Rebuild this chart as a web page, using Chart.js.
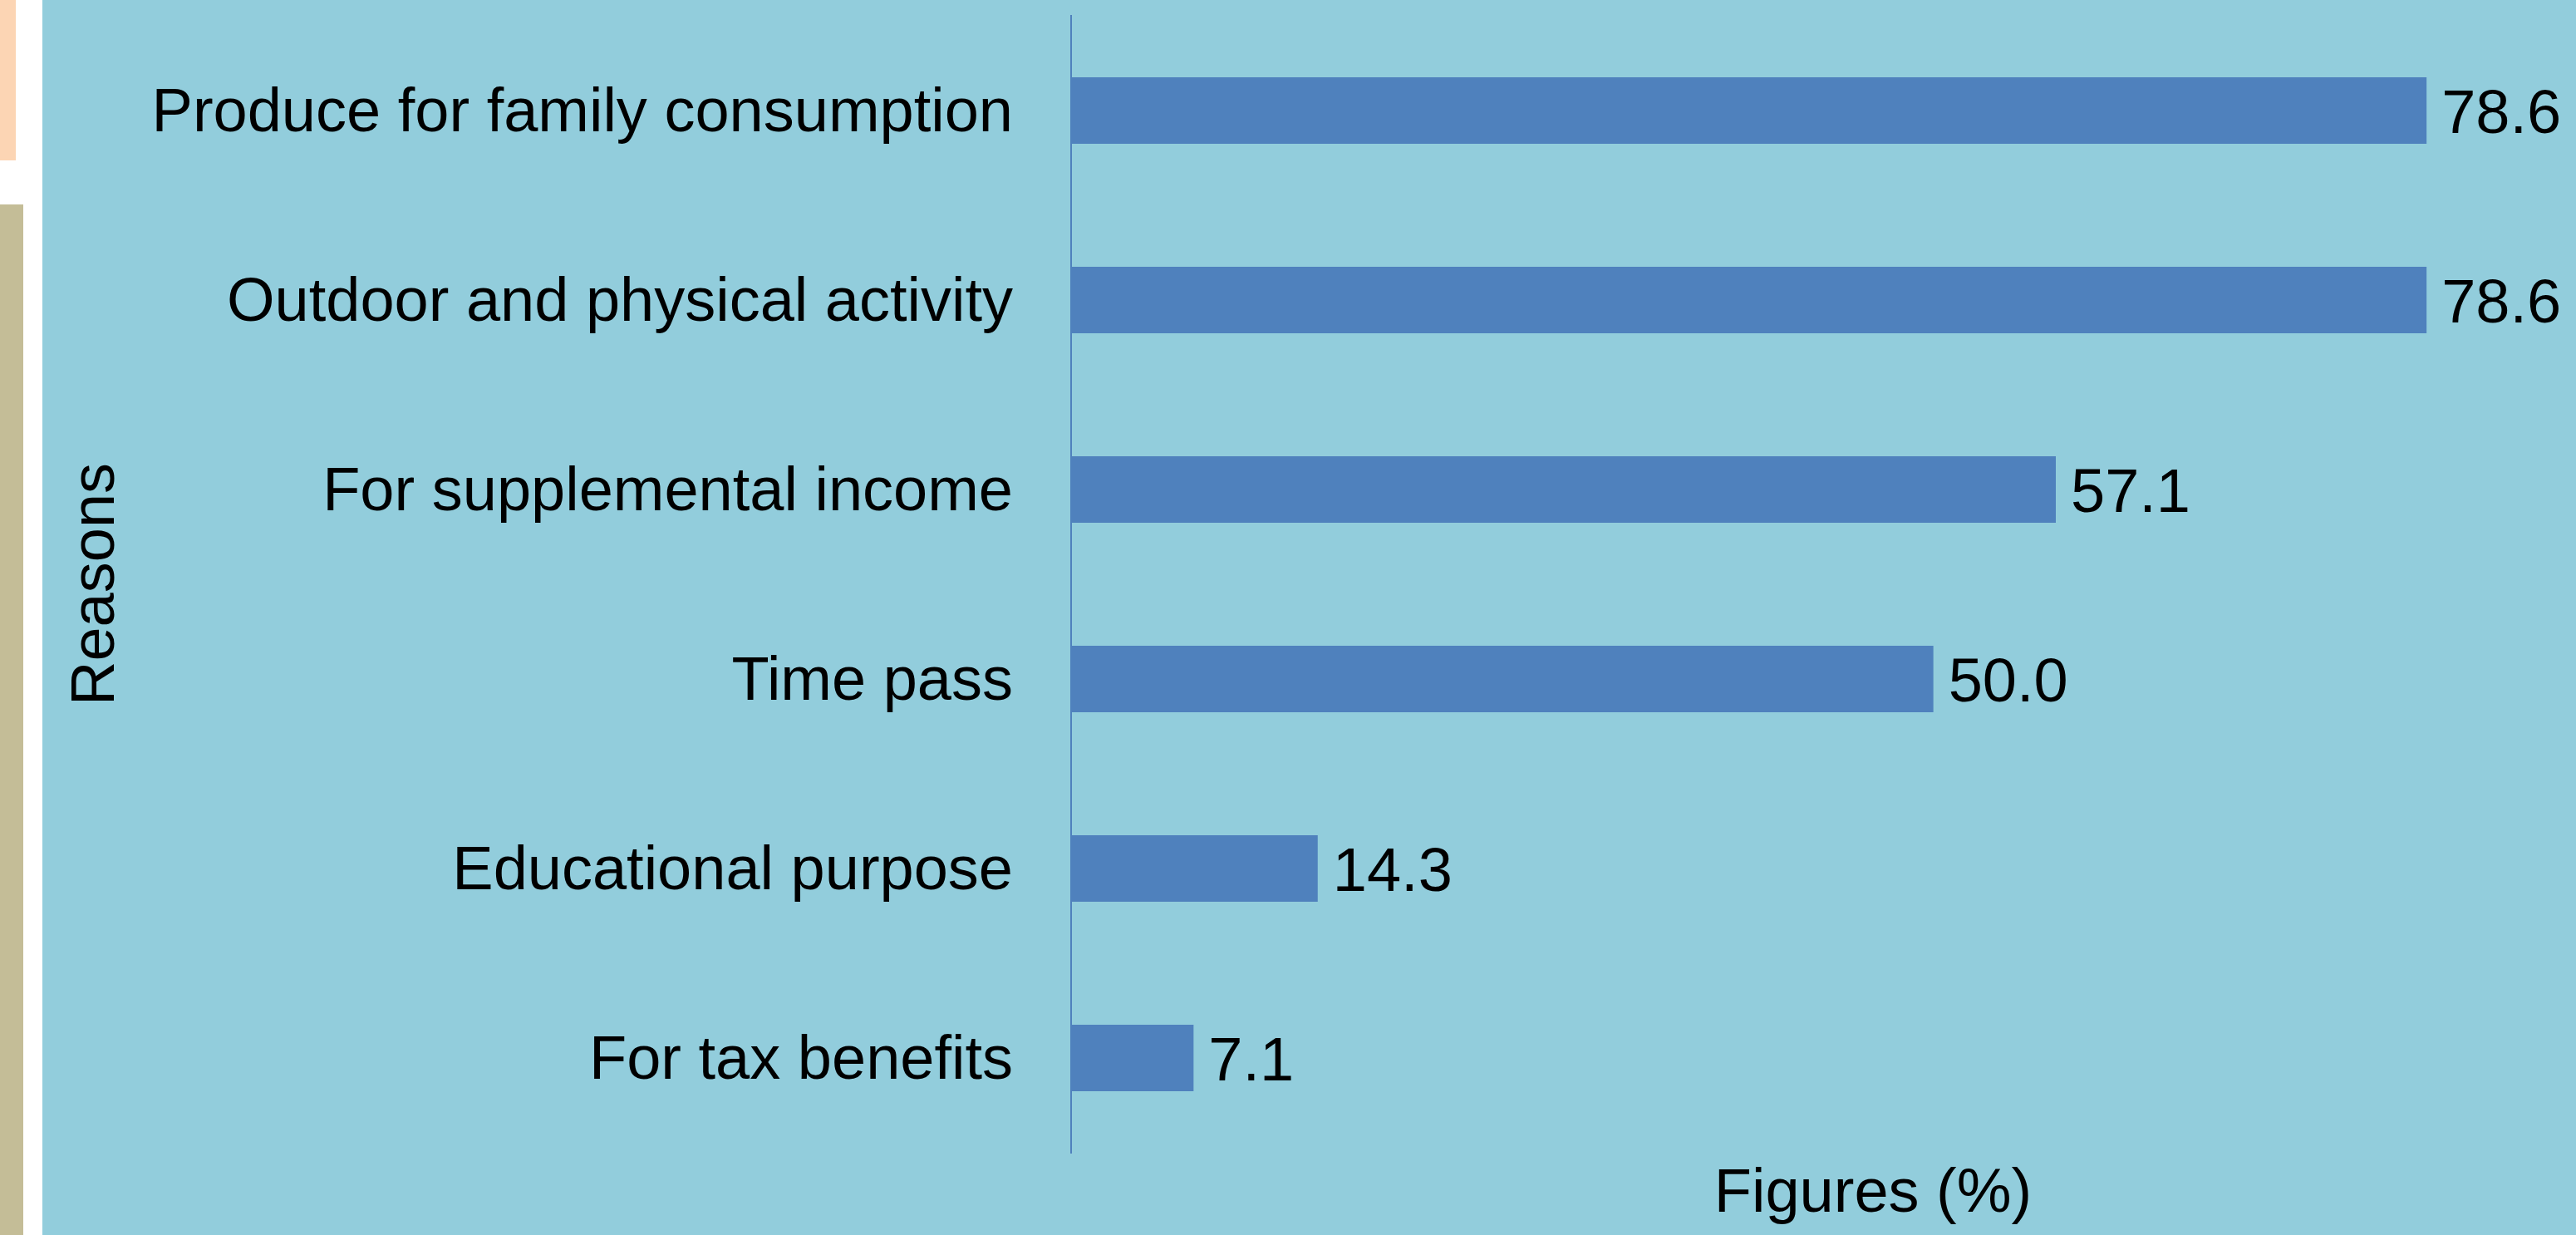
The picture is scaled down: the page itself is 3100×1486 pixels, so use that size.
<!DOCTYPE html>
<html>
<head>
<meta charset="utf-8">
<title>Reasons for gardening</title>
<script src="https://cdn.jsdelivr.net/npm/chart.js@4"></script>
<style>
    html, body { margin: 0; padding: 0; background: #ffffff; overflow: hidden; }
    #page { position: relative; width: 3100px; height: 1486px; overflow: hidden; background: #ffffff; }
    /* side strips of the slide */
    #stripTop { position: absolute; left: 0; top: 0; width: 19px; height: 193px; background: #FCD5B4; }
    #stripBottom { position: absolute; left: 0; top: 246px; width: 28px; height: 1240px; background: #C4BD97; }
    #panel { position: absolute; left: 51px; top: 0; width: 3049px; height: 1486px; background: #92CDDC; overflow: hidden; }
    #chartBox { position: absolute; left: 0; top: 0; width: 3168px; height: 1486px; }
</style>
</head>
<body>
<div id="page">
    <div id="stripTop"></div>
    <div id="stripBottom"></div>
    <div id="panel">
        <div id="chartBox"><canvas id="reasonsChart"></canvas></div>
    </div>
</div>
<script>
// Share of respondents giving each reason (%)
const reasons = [
    'Produce for family consumption',
    'Outdoor and physical activity',
    'For supplemental income',
    'Time pass',
    'Educational purpose',
    'For tax benefits'
];
const shares = [78.6, 78.6, 57.1, 50.0, 14.3, 7.1];

const axisTitleX = 'Figures (%)';
const axisTitleY = 'Reasons';

const textFont = { family: '"Liberation Sans", Arial, sans-serif', size: 74, lineHeight: 1 };

// writes the value just past the end of each bar
const barValues = {
    id: 'barValues',
    afterDatasetsDraw(chart) {
        const ctx = chart.ctx;
        const meta = chart.getDatasetMeta(0);
        ctx.save();
        ctx.font = textFont.size + 'px ' + textFont.family;
        ctx.fillStyle = '#000000';
        ctx.textAlign = 'left';
        ctx.textBaseline = 'middle';
        meta.data.forEach((bar, i) => {
            ctx.fillText(shares[i].toFixed(1), bar.x + 18, bar.y + 7);
        });
        ctx.restore();
    }
};

const ctx = document.getElementById('reasonsChart').getContext('2d');
new Chart(ctx, {
    type: 'bar',
    data: {
        labels: reasons,
        datasets: [{
            data: shares,
            backgroundColor: '#4F81BD',
            borderWidth: 0,
            categoryPercentage: 1,
            barPercentage: 0.35
        }]
    },
    options: {
        indexAxis: 'y',
        responsive: true,
        maintainAspectRatio: false,
        animation: false,
        layout: { padding: { top: 19, left: 0, right: 0, bottom: 0 } },
        plugins: {
            legend: { display: false },
            tooltip: { enabled: false }
        },
        scales: {
            x: {
                min: 0,
                max: 93,
                grid: { display: false, drawTicks: false },
                border: { display: false },
                ticks: { display: false },
                title: {
                    display: true,
                    text: axisTitleX,
                    color: '#000000',
                    font: textFont,
                    padding: { top: 14, bottom: 11 }
                }
            },
            y: {
                grid: { display: false, drawTicks: false },
                border: { display: true, color: '#4F81BD', width: 2 },
                ticks: {
                    color: '#000000',
                    font: textFont,
                    padding: 70,
                    labelOffset: 5
                },
                title: {
                    display: true,
                    text: axisTitleY,
                    color: '#000000',
                    font: textFont,
                    padding: { top: 29, bottom: 0 }
                },
                afterFit(scale) {
                    // fixed label column; labels sit inside their categories
                    scale.width = 1238;
                    scale.paddingTop = 0;
                    scale.paddingBottom = 0;
                }
            }
        }
    },
    plugins: [barValues]
});
</script>
</body>
</html>
